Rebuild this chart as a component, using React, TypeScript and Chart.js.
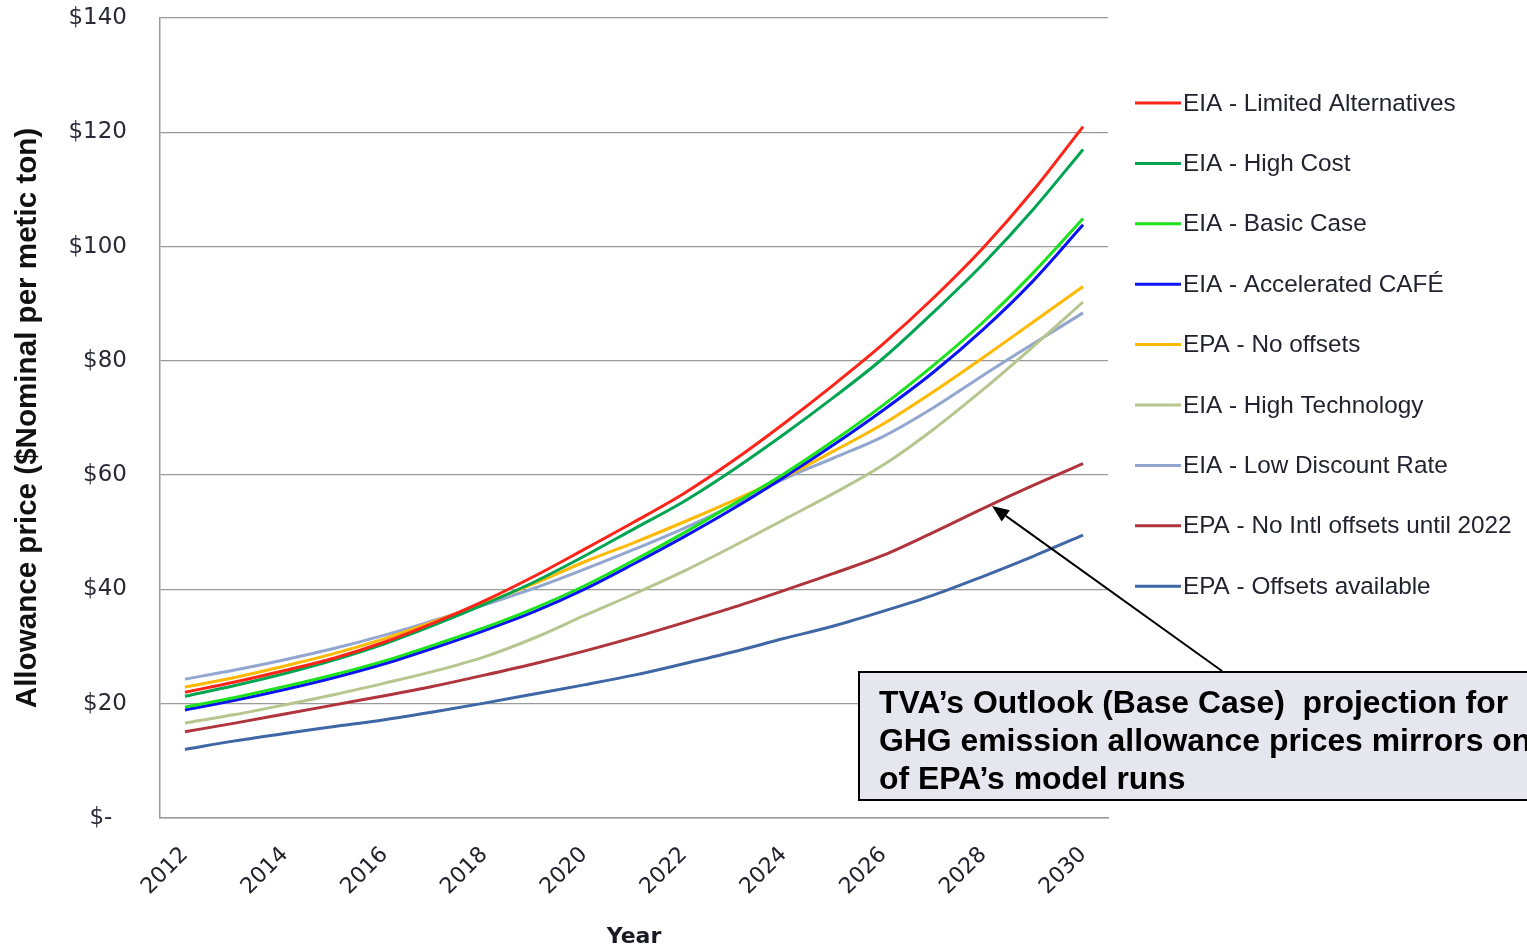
import React, { useEffect, useRef } from 'react';
import { Chart, registerables } from 'chart.js';

Chart.register(...registerables);

const years = ['2012', '2013', '2014', '2015', '2016', '2017', '2018', '2019', '2020', '2021', '2022', '2023', '2024', '2025', '2026', '2027', '2028', '2029', '2030'];

const seriesLabels = [
  'EIA - Limited Alternatives',
  'EIA - High Cost',
  'EIA - Basic Case',
  'EIA - Accelerated CAFÉ',
  'EPA - No offsets',
  'EIA - High Technology',
  'EIA - Low Discount Rate',
  'EPA - No Intl offsets until 2022',
  'EPA - Offsets available',
];

const limitedAlternatives = [22, 23.8, 25.8, 28, 30.8, 34.2, 38, 42.3, 47, 51.8, 56.8, 62.6, 69, 75.8, 83, 91, 99.8, 109.8, 121];
const highCost = [21.3, 23.2, 25.3, 27.7, 30.5, 33.8, 37.4, 41.3, 45.8, 50.6, 55.4, 61, 67.1, 73.6, 80.5, 88.5, 97, 106.5, 117];
const basicCase = [19.4, 21.1, 23, 25.1, 27.5, 30.3, 33.3, 36.7, 40.6, 45.1, 49.9, 55, 60.2, 66, 72.3, 79.2, 86.8, 95.4, 104.9];
const acceleratedCafe = [18.9, 20.6, 22.5, 24.6, 27, 29.8, 32.8, 36.1, 40, 44.5, 49.2, 54.2, 59.6, 65.3, 71.4, 78, 85.5, 94, 103.8];
const noOffsets = [22.9, 24.6, 26.6, 28.8, 31.4, 34.4, 37.6, 41, 44.8, 48.2, 51.8, 55.6, 59.6, 64.2, 69, 74.6, 80.6, 86.8, 93];
const highTechnology = [16.6, 18.1, 19.8, 21.6, 23.6, 25.7, 28.2, 31.5, 35.4, 39.2, 43.2, 47.6, 52.2, 56.8, 61.8, 68, 75, 82.5, 90.3];
const lowDiscountRate = [24.3, 25.9, 27.7, 29.7, 32, 34.6, 37.3, 40.2, 43.5, 47, 50.7, 54.8, 59.3, 63, 66.8, 71.8, 77.5, 83, 88.4];
const noIntlOffsets = [15.1, 16.6, 18.2, 19.8, 21.4, 23.1, 25, 27, 29.2, 31.6, 34.2, 36.9, 39.8, 42.8, 46, 50, 54.2, 58.2, 62];
const offsetsAvailable = [12, 13.5, 14.8, 16, 17.2, 18.6, 20.1, 21.7, 23.3, 25, 27, 29.1, 31.4, 33.6, 36.2, 39, 42.3, 45.8, 49.5];

const seriesValues = [
  limitedAlternatives,
  highCost,
  basicCase,
  acceleratedCafe,
  noOffsets,
  highTechnology,
  lowDiscountRate,
  noIntlOffsets,
  offsetsAvailable,
];

const seriesColors = ['#FF2418', '#00A552', '#1BE21B', '#0A14F5', '#FFB900', '#B6C68E', '#92A6D0', '#B0343C', '#3F67A6'];

const yTickValues = [0, 20, 40, 60, 80, 100, 120, 140];
const yTickLabels = ['$-  ', '$20', '$40', '$60', '$80', '$100', '$120', '$140'];

const noteLines = [
  'TVA’s Outlook (Base Case)  projection for',
  'GHG emission allowance prices mirrors one',
  'of EPA’s model runs',
];

const W = 1527;
const H = 948;

const legendPlugin = {
  id: 'sideLegend',
  afterDraw(chart: any) {
    const { ctx } = chart;
    ctx.save();
    chart.data.datasets.forEach((ds: any, i: number) => {
      const y = 103 + i * 60.4;
      ctx.strokeStyle = ds.borderColor;
      ctx.lineWidth = 3;
      ctx.beginPath();
      ctx.moveTo(1135, y);
      ctx.lineTo(1181, y);
      ctx.stroke();
      ctx.fillStyle = '#232330';
      ctx.font = '24.3px "Liberation Sans", Arial, sans-serif';
      ctx.textBaseline = 'middle';
      ctx.textAlign = 'left';
      ctx.fillText(ds.label, 1183, y + 1);
    });
    ctx.restore();
  },
};

const notePlugin = {
  id: 'noteBox',
  afterDraw(chart: any) {
    const { ctx } = chart;
    ctx.save();
    const sx = 1222, sy = 671, tx = 992, ty = 506;
    ctx.strokeStyle = '#000';
    ctx.fillStyle = '#000';
    ctx.lineWidth = 2;
    const ang = Math.atan2(ty - sy, tx - sx);
    const hl = 17, hw = 7;
    const bx = tx - Math.cos(ang) * hl, by = ty - Math.sin(ang) * hl;
    ctx.beginPath();
    ctx.moveTo(sx, sy);
    ctx.lineTo(bx, by);
    ctx.stroke();
    ctx.beginPath();
    ctx.moveTo(tx, ty);
    ctx.lineTo(bx + Math.sin(ang) * hw, by - Math.cos(ang) * hw);
    ctx.lineTo(bx - Math.sin(ang) * hw, by + Math.cos(ang) * hw);
    ctx.closePath();
    ctx.fill();
    ctx.fillStyle = '#E6E6EF';
    ctx.fillRect(859, 672, 720, 128);
    ctx.strokeStyle = '#000';
    ctx.lineWidth = 2;
    ctx.strokeRect(859, 672, 720, 128);
    ctx.fillStyle = '#000';
    ctx.font = 'bold 31.9px "Liberation Sans", Arial, sans-serif';
    ctx.textBaseline = 'alphabetic';
    ctx.textAlign = 'left';
    noteLines.forEach((t, i) => ctx.fillText(t, 879, 713 + i * 38));
    ctx.restore();
  },
};

export default function App() {
  const ref = useRef<HTMLCanvasElement>(null);

  useEffect(() => {
    const canvas = ref.current;
    if (!canvas) return;
    const chart = new Chart(canvas, {
      type: 'line',
      data: {
        labels: years,
        datasets: seriesLabels.map((label, i) => ({
          label,
          data: seriesValues[i],
          borderColor: seriesColors[i],
          backgroundColor: seriesColors[i],
          borderWidth: 3,
          pointRadius: 0,
          pointHoverRadius: 0,
          fill: false,
          cubicInterpolationMode: 'monotone' as const,
        })),
      },
      options: {
        animation: false,
        responsive: false,
        devicePixelRatio: 1,
        layout: { padding: { left: 0, top: 18, right: W - 1108, bottom: 0 } },
        plugins: {
          legend: { display: false },
          tooltip: { enabled: false },
        },
        scales: {
          x: {
            type: 'category',
            offset: true,
            grid: { display: false, drawTicks: false },
            border: { display: true, color: '#999', width: 1.5 },
            ticks: {
              autoSkip: false,
              minRotation: 45,
              maxRotation: 45,
              padding: 24,
              color: '#22222c',
              font: { family: '"DejaVu Sans", sans-serif', size: 22 },
              callback: (_v: any, idx: number) => (idx % 2 === 0 ? years[idx] : ''),
            },
            title: {
              display: true,
              text: 'Year',
              color: '#1a1a24',
              font: { family: '"DejaVu Sans", sans-serif', size: 22, weight: 'bold' },
              padding: { top: 0, bottom: -2 },
            },
            afterFit: (scale: any) => {
              scale.height = H - 818;
            },
          },
          y: {
            min: 0,
            max: 140,
            afterBuildTicks: (scale: any) => {
              scale.ticks = yTickValues.map((v) => ({ value: v }));
            },
            grid: { color: '#9a9a9a', lineWidth: 1.3, drawTicks: true, tickLength: 30, tickColor: 'rgba(0,0,0,0)' },
            border: { display: true, color: '#999', width: 1.5 },
            ticks: {
              padding: 3,
              color: '#2a2a36',
              font: { family: '"DejaVu Sans", sans-serif', size: 23 },
              callback: (v: any) => yTickLabels[yTickValues.indexOf(Number(v))] ?? '',
            },
            title: {
              display: true,
              text: 'Allowance price ($Nominal per metic ton)',
              color: '#111',
              font: { family: '"Liberation Sans", Arial, sans-serif', size: 29.6, weight: 'bold' },
              padding: { top: 10, bottom: 0 },
            },
            afterFit: (scale: any) => {
              scale.width = 160;
            },
          },
        },
      },
      plugins: [legendPlugin, notePlugin],
    });
    return () => chart.destroy();
  }, []);

  return (
    <div style={{ position: 'fixed', left: 0, top: 0, width: W, height: H, overflow: 'hidden', background: '#fff' }}>
      <canvas ref={ref} width={W} height={H} style={{ display: 'block', width: W, height: H }} />
    </div>
  );
}
